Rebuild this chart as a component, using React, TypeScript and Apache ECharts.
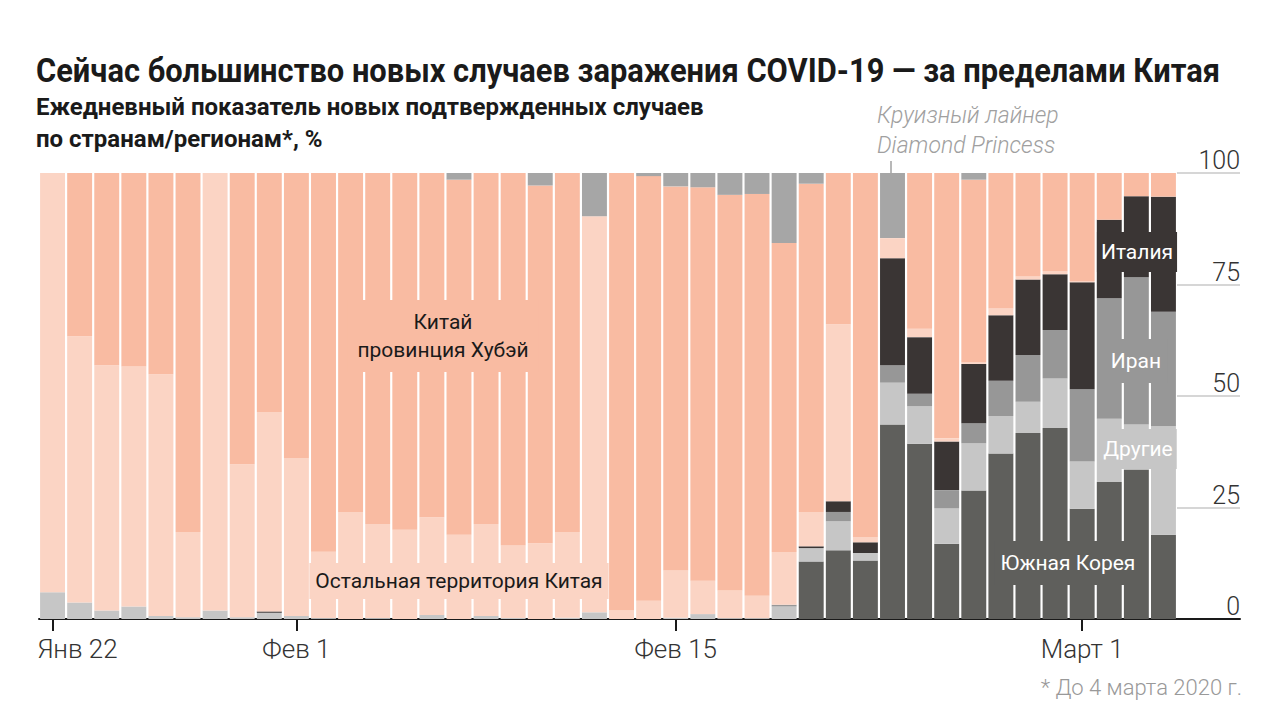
import React, { useEffect, useRef } from "react";
import * as echarts from "echarts";

// 42 daily bars (data through 4 March 2020)
const categories = [
  "01-23","01-24","01-25","01-26","01-27","01-28","01-29","01-30","01-31",
  "02-01","02-02","02-03","02-04","02-05","02-06","02-07","02-08","02-09","02-10",
  "02-11","02-12","02-13","02-14","02-15","02-16","02-17","02-18","02-19","02-20",
  "02-21","02-22","02-23","02-24","02-25","02-26","02-27","02-28","02-29",
  "03-01","03-02","03-03","03-04",
];
const tickLabels: Record<string, string> = {
  "01-23": "Янв 22",
  "02-01": "Фев 1",
  "02-15": "Фев 15",
  "03-01": "Март 1",
};

const southKorea = [0,0,0,0,0,0,0,0,0,0,0,0,0,0,0,0,0,0,0,0,0,0,0,0,0,0,0,0,12.9,15.4,13.1,43.6,39.3,16.9,28.8,37.1,41.7,42.8,24.7,30.7,33.5,18.9];
const others = [6.0,3.7,1.9,2.8,0.7,0.4,1.9,0.4,1.4,0.7,0.2,0,0.2,0,0.9,0,0.7,0.2,0,0.3,1.5,0,0,0.3,1.1,0.2,0.2,2.8,3.0,6.5,1.7,9.4,8.4,7.9,10.6,8.4,7.0,11.1,10.6,14.2,10.1,24.3];
const iran = [0,0,0,0,0,0,0,0,0,0,0,0,0,0,0,0,0,0,0,0,0,0,0,0,0,0,0,0.4,0,2.1,0,3.9,2.8,4.1,4.5,7.9,10.5,10.9,16.2,27.0,33.0,25.7];
const italy = [0,0,0,0,0,0,0,0,0.3,0,0,0,0,0,0,0,0,0,0,0,0,0,0,0,0,0,0,0,0.4,2.4,2.4,24.0,12.7,10.9,13.3,14.7,16.9,12.5,24.0,17.6,18.2,25.8];
const restOfChina = [94.0,59.7,55.0,53.8,54.2,19.1,98.1,34.3,44.7,35.4,14.9,24.0,21.1,20.0,21.9,18.9,20.6,16.3,17.0,19.2,88.8,1.9,4.1,10.6,7.5,6.2,5.0,11.8,7.7,39.7,1.2,4.5,1.9,0.7,0.3,1.6,0.7,0.6,0.3,0,0,0];
const hubei = [0,36.6,43.1,43.4,45.1,80.5,0,65.3,53.6,63.9,84.9,76.0,78.7,80.0,77.2,79.6,78.7,83.5,80.2,80.5,0,98.1,95.2,86.1,88.2,88.7,90.1,69.3,73.6,33.9,81.6,0,34.9,59.5,41.0,30.3,23.2,22.1,24.2,10.5,5.3,5.3];
const diamondPrincess = [0,0,0,0,0,0,0,0,0,0,0,0,0,0,0,1.5,0,0,2.8,0,9.7,0,0.7,3.0,3.2,4.9,4.7,15.7,2.4,0,0,14.6,0,0,1.5,0,0,0,0,0,0,0];

const yTicks = { min: 0, max: 100, interval: 25 };

const C = {
  sk: "#5f5f5c",
  others: "#c6c6c6",
  iran: "#979797",
  italy: "#3a3534",
  rest: "#fbd4c4",
  hubei: "#f9bba2",
  dp: "#a6a6a6",
};

const LIGHT = "Roboto";

export default function App() {
  const ref = useRef<HTMLDivElement>(null);
  useEffect(() => {
    if (!ref.current) return;
    const chart = echarts.init(ref.current, undefined, { renderer: "svg" });
    const mk = (name: string, data: number[], color: string) => ({
      name,
      type: "bar",
      stack: "total",
      xAxisIndex: 0,
      yAxisIndex: 0,
      barCategoryGap: "8%",
      itemStyle: { color },
      emphasis: { disabled: true },
      data,
    });
    const showTick = (_i: number, v: string) => v in tickLabels;
    const label = (text: string, cx: number, cy: number, bg: string, fg: string, pad: number[]) => ({
      type: "text",
      z: 100,
      x: cx,
      y: cy,
      style: {
        text,
        align: "center",
        verticalAlign: "middle",
        fontFamily: "Roboto",
        fontSize: 21,
        fill: fg,
        backgroundColor: bg,
        padding: pad,
        lineHeight: 28,
      },
    });
    chart.setOption({
      animation: false,
      backgroundColor: "#ffffff",
      grid: [
        { left: 39, top: 173, width: 1138, height: 446 },
        { left: 1177, top: 173, width: 63, height: 446 },
      ],
      xAxis: [
        {
          type: "category",
          gridIndex: 0,
          data: categories,
          axisLine: { lineStyle: { color: "#1a1a1a", width: 2 } },
          axisTick: {
            show: true,
            alignWithLabel: true,
            interval: showTick,
            length: 12,
            lineStyle: { color: "#1a1a1a", width: 2 },
          },
          axisLabel: {
            interval: showTick,
            formatter: (v: string) =>
              v === categories[0] ? `{first|${tickLabels[v]}}` : tickLabels[v] ?? "",
            fontFamily: LIGHT,
            fontWeight: 300,
            fontSize: 26,
            color: "#333",
            margin: 17,
            rich: {
              first: {
                fontFamily: LIGHT,
                fontWeight: 300,
                fontSize: 26,
                color: "#333",
                padding: [0, 0, 0, 50],
              },
            },
          },
          splitLine: { show: false },
        },
        {
          type: "value",
          gridIndex: 1,
          min: 0,
          max: 1,
          axisLine: { show: true, onZero: false, lineStyle: { color: "#1a1a1a", width: 2 } },
          axisTick: { show: false },
          axisLabel: { show: false },
          splitLine: { show: false },
        },
      ],
      yAxis: [
        { type: "value", gridIndex: 0, min: yTicks.min, max: yTicks.max, show: false },
        {
          type: "value",
          gridIndex: 1,
          position: "right",
          min: yTicks.min,
          max: yTicks.max,
          interval: yTicks.interval,
          axisLine: { show: false },
          axisTick: { show: false },
          splitLine: { show: true, showMinLine: false, lineStyle: { color: "#c8c8c8", width: 1.5 } },
          axisLabel: {
            inside: true,
            verticalAlign: "bottom",
            fontFamily: LIGHT,
            fontWeight: 300,
            fontSize: 25,
            color: "#333",
            margin: 0,
          },
        },
      ],
      series: [
        mk("Южная Корея", southKorea, C.sk),
        mk("Другие", others, C.others),
        mk("Иран", iran, C.iran),
        mk("Италия", italy, C.italy),
        mk("Остальная территория Китая", restOfChina, C.rest),
        mk("Китай провинция Хубэй", hubei, C.hubei),
        mk("Круизный лайнер Diamond Princess", diamondPrincess, C.dp),
      ],
      graphic: [
        {
          type: "text",
          x: 36,
          y: 54,
          scaleX: 0.935,
          style: {
            text: "Сейчас большинство новых случаев заражения COVID-19 — за пределами Китая",
            fontFamily: "Roboto",
            fontWeight: "bold",
            fontSize: 33,
            fill: "#1a1a1a",
            align: "left",
            verticalAlign: "top",
          },
        },
        {
          type: "text",
          x: 36,
          y: 91,
          style: {
            text: "Ежедневный показатель новых подтвержденных случаев\nпо странам/регионам*, %",
            fontFamily: "Roboto",
            fontWeight: "bold",
            fontSize: 24,
            lineHeight: 32,
            fill: "#1a1a1a",
            align: "left",
            verticalAlign: "top",
          },
        },
        {
          type: "text",
          x: 877,
          y: 100,
          style: {
            text: "Круизный лайнер\nDiamond Princess",
            fontFamily: LIGHT,
            fontStyle: "italic",
            fontWeight: 300,
            fontSize: 23,
            lineHeight: 30,
            fill: "#a0a0a0",
            align: "left",
            verticalAlign: "top",
          },
        },
        {
          type: "line",
          shape: { x1: 891, y1: 161, x2: 891, y2: 173 },
          style: { stroke: "#a0a0a0", lineWidth: 1.5 },
        },
        {
          type: "text",
          right: 38,
          top: 676,
          style: {
            text: "* До 4 марта 2020 г.",
            fontFamily: LIGHT,
            fontWeight: 300,
            fontSize: 22,
            fill: "#999",
          },
        },
        label("Китай\nпровинция Хубэй", 443, 336, C.hubei, "#1a1a1a", [8, 10, 8, 10]),
        label("Остальная территория Китая", 459, 581, C.rest, "#1a1a1a", [4, 6, 4, 6]),
        label("Италия", 1137, 252, C.italy, "#ffffff", [6, 4, 6, 4]),
        label("Иран", 1136, 361, C.iran, "#ffffff", [8, 6, 8, 6]),
        label("Другие", 1138, 449, C.others, "#ffffff", [6, 4, 6, 4]),
        label("Южная Корея", 1068, 563, C.sk, "#ffffff", [8, 6, 8, 6]),
      ],
    });
    return () => chart.dispose();
  }, []);
  return (
    <div
      ref={ref}
      style={{ position: "fixed", left: 0, top: 0, width: 1280, height: 721, background: "#fff" }}
    />
  );
}
